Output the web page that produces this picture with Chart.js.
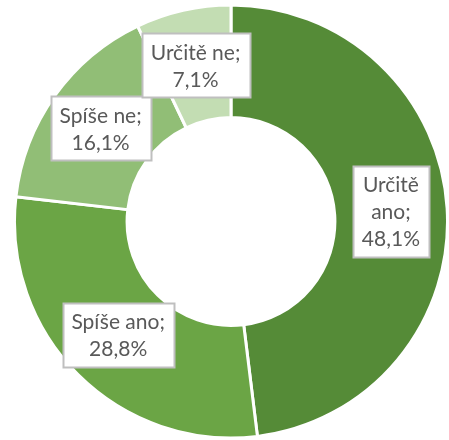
<!DOCTYPE html>
<html>
<head>
<meta charset="utf-8">
<script src="https://cdn.jsdelivr.net/npm/chart.js@4"></script>
<style>
  html, body { margin: 0; padding: 0; background: #fff; }
  #wrap { width: 449px; height: 440px; }
</style>
</head>
<body>
<div id="wrap"><canvas id="donut" width="449" height="440"></canvas></div>
<script>
var categories = ['Určitě ano', 'Spíše ano', 'Spíše ne', 'Určitě ne'];
var values = [48.1, 28.8, 16.1, 7.1];
// how the category name is wrapped inside its label box
var labelLines = [['Určitě', 'ano;'], ['Spíše ano;'], ['Spíše ne;'], ['Určitě ne;']];
var colors = ['#558B37', '#6BA545', '#91BE76', '#C3DDB3'];

var boxLabels = {
  id: 'boxLabels',
  afterDatasetsDraw: function (chart) {
    var ctx = chart.ctx;
    var meta = chart.getDatasetMeta(0);
    ctx.save();
    ctx.font = '21px Lato, "Open Sans", sans-serif';
    ctx.textAlign = 'center';
    ctx.textBaseline = 'middle';
    var lineH = 27;
    meta.data.forEach(function (arc, i) {
      var p = arc.getCenterPoint();
      var lines = labelLines[i].concat([values[i].toFixed(1).replace('.', ',') + '%']);
      var w = 0;
      lines.forEach(function (t) { w = Math.max(w, ctx.measureText(t).width); });
      var bw = Math.round(w + 18);
      var bh = lines.length * lineH + 10;
      var x0 = Math.round(p.x - bw / 2) + 0.5;
      var y0 = Math.round(p.y - bh / 2) + 0.5;
      ctx.fillStyle = '#fff';
      ctx.fillRect(x0, y0, bw, bh);
      ctx.strokeStyle = '#BFBFBF';
      ctx.lineWidth = 2;
      ctx.strokeRect(x0, y0, bw, bh);
      ctx.fillStyle = '#595959';
      lines.forEach(function (t, k) {
        ctx.fillText(t, p.x, p.y - (lines.length - 1) * lineH / 2 + k * lineH + 1);
      });
    });
    ctx.restore();
  }
};

var ctx = document.getElementById('donut').getContext('2d');
var donut = new Chart(ctx, {
  type: 'doughnut',
  data: {
    labels: categories,
    datasets: [{
      data: values,
      backgroundColor: colors,
      borderColor: '#ffffff',
      borderWidth: 3
    }]
  },
  options: {
    responsive: false,
    animation: false,
    cutout: '48%',
    layout: { padding: { top: 3, bottom: 0, left: 13, right: 0 } },
    plugins: {
      legend: { display: false },
      tooltip: { enabled: false }
    }
  },
  plugins: [boxLabels]
});
</script>
</body>
</html>
